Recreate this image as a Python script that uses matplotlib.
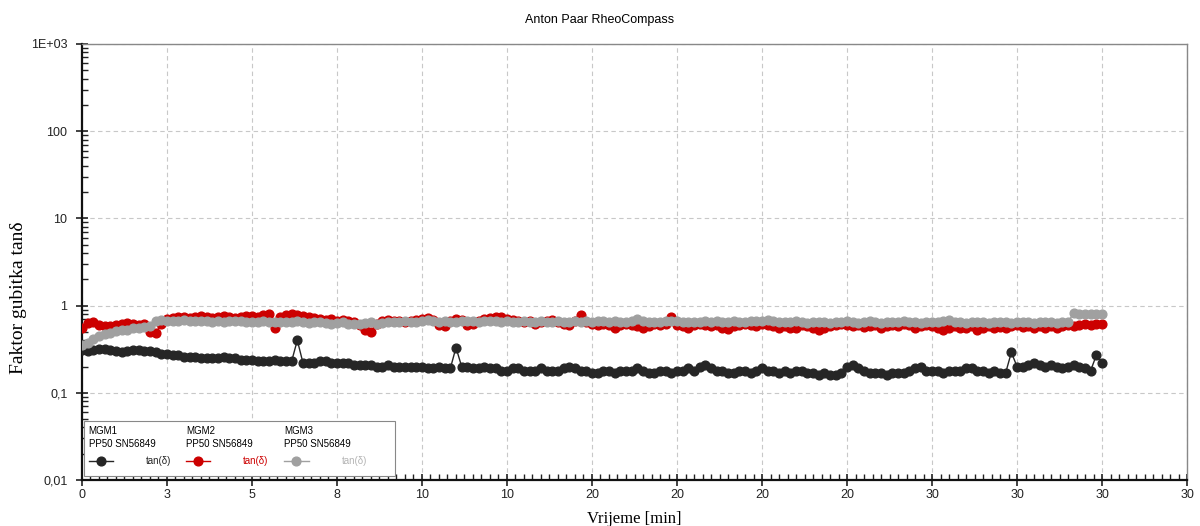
import numpy as np
import matplotlib
matplotlib.use('Agg')
import matplotlib.pyplot as plt
from matplotlib.ticker import FixedLocator, FixedFormatter, LogLocator, NullFormatter
from matplotlib.lines import Line2D
from matplotlib.patches import Rectangle

# one point every 10 s, 0 .. 30 min
n_points = 181
time_min = np.arange(n_points) / 6.0

# MGM1 tan(delta)
tan_mgm1 = [
    0.31, 0.30, 0.31, 0.32, 0.32, 0.31, 0.30, 0.29, 0.30, 0.31, 0.31, 0.30,
    0.30, 0.29, 0.28, 0.28, 0.27, 0.27, 0.26, 0.26, 0.26, 0.25, 0.25, 0.25,
    0.25, 0.26, 0.25, 0.25, 0.24, 0.24, 0.24, 0.23, 0.23, 0.23, 0.24, 0.23,
    0.23, 0.23, 0.40, 0.22, 0.22, 0.22, 0.23, 0.23, 0.22, 0.22, 0.22, 0.22,
    0.21, 0.21, 0.21, 0.21, 0.20, 0.20, 0.21, 0.20, 0.20, 0.20, 0.20, 0.20,
    0.20, 0.19, 0.19, 0.20, 0.19, 0.19, 0.33, 0.20, 0.20, 0.19, 0.19, 0.20,
    0.19, 0.19, 0.18, 0.18, 0.19, 0.19, 0.18, 0.18, 0.18, 0.19, 0.18, 0.18,
    0.18, 0.19, 0.20, 0.19, 0.18, 0.18, 0.17, 0.17, 0.18, 0.18, 0.17, 0.18,
    0.18, 0.18, 0.19, 0.18, 0.17, 0.17, 0.18, 0.18, 0.17, 0.18, 0.18, 0.19,
    0.18, 0.20, 0.21, 0.19, 0.18, 0.18, 0.17, 0.17, 0.18, 0.18, 0.17, 0.18,
    0.19, 0.18, 0.18, 0.17, 0.18, 0.17, 0.18, 0.18, 0.17, 0.17, 0.16, 0.17,
    0.16, 0.16, 0.17, 0.20, 0.21, 0.19, 0.18, 0.17, 0.17, 0.17, 0.16, 0.17,
    0.17, 0.17, 0.18, 0.19, 0.20, 0.18, 0.18, 0.18, 0.17, 0.18, 0.18, 0.18,
    0.19, 0.19, 0.18, 0.18, 0.17, 0.18, 0.17, 0.17, 0.29, 0.20, 0.20, 0.21,
    0.22, 0.21, 0.20, 0.21, 0.20, 0.19, 0.20, 0.21, 0.20, 0.19, 0.18, 0.27, 0.22,
]

# MGM2 tan(delta)
tan_mgm2 = [
    0.56, 0.63, 0.64, 0.60, 0.58, 0.59, 0.60, 0.61, 0.63, 0.62, 0.60, 0.62,
    0.50, 0.48, 0.62, 0.70, 0.72, 0.73, 0.74, 0.72, 0.73, 0.75, 0.74, 0.72,
    0.73, 0.75, 0.74, 0.72, 0.74, 0.76, 0.75, 0.73, 0.78, 0.81, 0.55, 0.74,
    0.78, 0.80, 0.77, 0.75, 0.74, 0.72, 0.70, 0.68, 0.70, 0.66, 0.68, 0.66,
    0.64, 0.60, 0.52, 0.50, 0.62, 0.66, 0.68, 0.66, 0.67, 0.65, 0.66, 0.68,
    0.70, 0.72, 0.68, 0.60, 0.58, 0.66, 0.70, 0.68, 0.60, 0.62, 0.66, 0.70,
    0.72, 0.74, 0.73, 0.70, 0.68, 0.66, 0.64, 0.66, 0.62, 0.64, 0.66, 0.68,
    0.64, 0.62, 0.60, 0.66, 0.78, 0.64, 0.62, 0.60, 0.62, 0.60, 0.56, 0.60,
    0.62, 0.60, 0.58, 0.55, 0.58, 0.62, 0.60, 0.62, 0.74, 0.60, 0.58, 0.55,
    0.60, 0.62, 0.60, 0.58, 0.60, 0.56, 0.54, 0.58, 0.60, 0.62, 0.60, 0.58,
    0.62, 0.60, 0.58, 0.56, 0.58, 0.55, 0.56, 0.60, 0.58, 0.55, 0.52, 0.56,
    0.58, 0.60, 0.62, 0.60, 0.58, 0.60, 0.57, 0.58, 0.60, 0.56, 0.58, 0.60,
    0.58, 0.62, 0.60, 0.56, 0.58, 0.60, 0.58, 0.56, 0.52, 0.55, 0.58, 0.56,
    0.55, 0.58, 0.52, 0.56, 0.58, 0.55, 0.57, 0.56, 0.58, 0.60, 0.57, 0.58,
    0.56, 0.58, 0.56, 0.58, 0.55, 0.58, 0.60, 0.58, 0.60, 0.62, 0.60, 0.62, 0.61,
]

# MGM3 tan(delta)
tan_mgm3 = [
    0.35, 0.37, 0.41, 0.45, 0.47, 0.49, 0.51, 0.52, 0.53, 0.55, 0.56, 0.57,
    0.58, 0.66, 0.68, 0.67, 0.66, 0.67, 0.68, 0.66, 0.67, 0.66, 0.66, 0.65,
    0.66, 0.65, 0.66, 0.67, 0.66, 0.65, 0.64, 0.65, 0.66, 0.65, 0.64, 0.65,
    0.64, 0.65, 0.66, 0.64, 0.63, 0.64, 0.65, 0.63, 0.62, 0.63, 0.64, 0.62,
    0.61, 0.62, 0.63, 0.64, 0.62, 0.63, 0.64, 0.65, 0.64, 0.66, 0.65, 0.64,
    0.66, 0.68, 0.66, 0.65, 0.66, 0.64, 0.65, 0.66, 0.67, 0.66, 0.65, 0.66,
    0.67, 0.66, 0.65, 0.66, 0.64, 0.65, 0.66, 0.64, 0.65, 0.66, 0.64, 0.65,
    0.66, 0.65, 0.64, 0.66, 0.65, 0.66, 0.64, 0.66, 0.67, 0.65, 0.66, 0.64,
    0.65, 0.66, 0.70, 0.66, 0.65, 0.64, 0.65, 0.66, 0.67, 0.66, 0.65, 0.64,
    0.65, 0.64, 0.66, 0.65, 0.66, 0.64, 0.65, 0.66, 0.64, 0.65, 0.66, 0.67,
    0.66, 0.68, 0.66, 0.65, 0.64, 0.65, 0.66, 0.64, 0.63, 0.64, 0.65, 0.64,
    0.63, 0.64, 0.65, 0.66, 0.64, 0.63, 0.65, 0.66, 0.64, 0.63, 0.64, 0.65,
    0.64, 0.66, 0.65, 0.64, 0.63, 0.64, 0.65, 0.64, 0.66, 0.68, 0.65, 0.64,
    0.63, 0.64, 0.65, 0.64, 0.63, 0.64, 0.65, 0.64, 0.63, 0.64, 0.65, 0.64,
    0.63, 0.64, 0.65, 0.64, 0.63, 0.64, 0.65, 0.82, 0.80, 0.81, 0.80, 0.81, 0.80,
]

series_names = ['MGM1', 'MGM2', 'MGM3']
geometry = 'PP50 SN56849'
x_ticks = [0, 2.5, 5, 7.5, 10, 12.5, 15, 17.5, 20, 22.5, 25, 27.5, 30, 32.5]
x_ticklabels = ['0', '3', '5', '8', '10', '10', '20', '20', '20', '20', '30', '30', '30', '30']
y_ticks = [0.01, 0.1, 1, 10, 100, 1000]
y_ticklabels = ['0,01', '0,1', '1', '10', '100', '1E+03']

colors = ['#262626', '#cc0000', '#a0a0a0']
text_colors = ['#262626', '#cc0000', '#b4b4b4']

plt.rcParams['font.family'] = ['Liberation Sans', 'DejaVu Sans']

fig = plt.figure(figsize=(12, 5.26), dpi=100)
ax = fig.add_axes([0.0683, 0.0875, 0.9209, 0.8289])

for ys, c in zip([tan_mgm1, tan_mgm2, tan_mgm3], colors):
    ax.plot(time_min, ys, '-o', color=c, lw=1.0, ms=6.3, mec=c, mfc=c, zorder=3)

ax.set_yscale('log')
ax.set_xlim(0, 32.5)
ax.set_ylim(0.01, 1000)

ax.xaxis.set_major_locator(FixedLocator(x_ticks))
ax.xaxis.set_major_formatter(FixedFormatter(x_ticklabels))
ax.xaxis.set_minor_locator(FixedLocator(np.arange(0, 32.51, 0.25)))
ax.yaxis.set_major_locator(FixedLocator(y_ticks))
ax.yaxis.set_major_formatter(FixedFormatter(y_ticklabels))
ax.yaxis.set_minor_locator(LogLocator(base=10, subs=np.arange(2, 10)))
ax.yaxis.set_minor_formatter(NullFormatter())

ax.tick_params(axis='both', which='major', direction='inout', length=9, width=1.2,
               labelsize=9, colors='#222222')
ax.tick_params(axis='both', which='minor', direction='in', length=4, width=1.0, colors='#222222')
ax.tick_params(axis='x', which='major', pad=2)
ax.tick_params(axis='y', which='major', pad=6)

ax.grid(True, which='major', color='#c8c8c8', linestyle=(0, (4, 3)), linewidth=0.8, zorder=0)

for side in ['left', 'bottom']:
    ax.spines[side].set_color('#111111')
    ax.spines[side].set_linewidth(1.6)
for side in ['top', 'right']:
    ax.spines[side].set_color('#888888')
    ax.spines[side].set_linewidth(1.0)

fig.text(0.5, 0.962, 'Anton Paar RheoCompass', ha='center', va='center', fontsize=9)
ax.set_xlabel('Vrijeme [min]', family='Liberation Serif', fontsize=12, labelpad=7)
ax.set_ylabel('Faktor gubitka tanδ', family=['Liberation Serif', 'DejaVu Serif'], fontsize=14)
ax.yaxis.set_label_coords(-0.050, 0.417)

# legend box drawn by hand (titles above the symbols)
ax.add_patch(Rectangle((0.002, 0.008), 0.281, 0.128, transform=ax.transAxes,
                       facecolor='white', edgecolor='#888888', lw=0.8, zorder=5))
col_x = [0.006, 0.094, 0.183]
for name, c, tc, x0 in zip(series_names, colors, text_colors, col_x):
    ax.text(x0, 0.112, name, transform=ax.transAxes, fontsize=7, va='center', zorder=6)
    ax.text(x0, 0.082, geometry, transform=ax.transAxes, fontsize=7, va='center', zorder=6)
    ax.add_line(Line2D([x0, x0 + 0.022], [0.043, 0.043], transform=ax.transAxes, color=c,
                       lw=1.0, marker=None, zorder=6))
    ax.add_line(Line2D([x0 + 0.011], [0.043], transform=ax.transAxes, color=c,
                       marker='o', ms=6.3, zorder=7))
    ax.text(x0 + 0.052, 0.043, 'tan(δ)', transform=ax.transAxes, fontsize=7, va='center',
            color=tc, zorder=6)

fig.savefig('out.png', dpi=100)
